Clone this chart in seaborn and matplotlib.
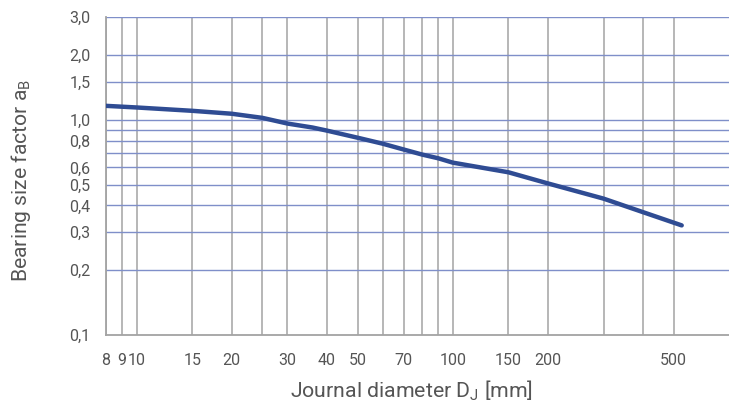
import numpy as np
import pandas as pd
import matplotlib
matplotlib.use("Agg")
import matplotlib.pyplot as plt
import seaborn as sns
from matplotlib.ticker import FixedLocator, FixedFormatter, NullLocator

# curve (journal diameter in mm, factor a_B)
diameter = [8, 10, 15, 20, 25, 30, 36, 40, 50, 60, 70, 80, 90, 100, 150, 200, 300, 400, 530]
factor = [1.16, 1.14, 1.10, 1.066, 1.02, 0.96, 0.92, 0.89, 0.825, 0.774, 0.727, 0.689,
          0.662, 0.632, 0.57, 0.506, 0.43, 0.372, 0.323]

x_ticks = [8, 9, 10, 15, 20, 25, 30, 40, 50, 60, 70, 80, 90, 100, 150, 200, 300, 400, 500]
x_labels = ["8", "9", "10", "15", "20", "", "30", "40", "50", "", "70", "", "", "100",
            "150", "200", "", "", "500"]
y_ticks = [0.1, 0.2, 0.3, 0.4, 0.5, 0.6, 0.7, 0.8, 0.9, 1.0, 1.5, 2.0, 3.0]
y_labels = ["0,1", "0,2", "0,3", "0,4", "0,5", "0,6", "", "0,8", "", "1,0", "1,5", "2,0", "3,0"]

df = pd.DataFrame({"diameter": diameter, "factor": factor})

sns.set_style("white")
plt.rcParams["font.family"] = ["Roboto", "DejaVu Sans"]
plt.rcParams["mathtext.fontset"] = "custom"
plt.rcParams["mathtext.rm"] = "Roboto"

text_col = "#555555"
grey = "#a3a3a3"
blue_grid = "#7f8fc9"

fig = plt.figure(figsize=(7.29, 4.03), dpi=100)
ax = fig.add_axes([0.1454, 0.1687, 0.8546, 0.7891])

ax.set_xscale("log")
ax.set_yscale("log")

for v in x_ticks:
    ax.axvline(v, color=grey, lw=1.1, zorder=1)
for v in y_ticks[1:]:
    ax.axhline(v, color=blue_grid, lw=1.0, zorder=1)

sns.lineplot(data=df, x="diameter", y="factor", ax=ax, color="#2f4c93", lw=3.2, zorder=3)

ax.set_xlim(8, 748)
ax.set_ylim(0.1, 3.0)

ax.xaxis.set_major_locator(FixedLocator(x_ticks))
ax.xaxis.set_major_formatter(FixedFormatter(x_labels))
ax.xaxis.set_minor_locator(NullLocator())
ax.yaxis.set_major_locator(FixedLocator(y_ticks))
ax.yaxis.set_major_formatter(FixedFormatter(y_labels))
ax.yaxis.set_minor_locator(NullLocator())

ax.tick_params(axis="both", which="major", length=8, width=1.1, color=grey,
               labelcolor=text_col, labelsize=11.5, direction="out")
ax.tick_params(axis="x", pad=5)
ax.tick_params(axis="y", pad=3)

for s in ["top", "right"]:
    ax.spines[s].set_visible(False)
for s in ["left", "bottom"]:
    ax.spines[s].set_color(grey)
    ax.spines[s].set_linewidth(1.3)

ax.set_xlabel("Journal diameter D$_\\mathrm{J}$ [mm]", fontsize=15.3, color=text_col)
ax.set_ylabel("Bearing size factor a$_\\mathrm{B}$", fontsize=15.2, color=text_col)
ax.xaxis.set_label_coords(0.49, -0.175)
ax.xaxis.label.set_va("center")
ax.yaxis.set_label_coords(-0.137, 0.487)
ax.yaxis.label.set_va("center")

fig.savefig("out.png", dpi=100)
